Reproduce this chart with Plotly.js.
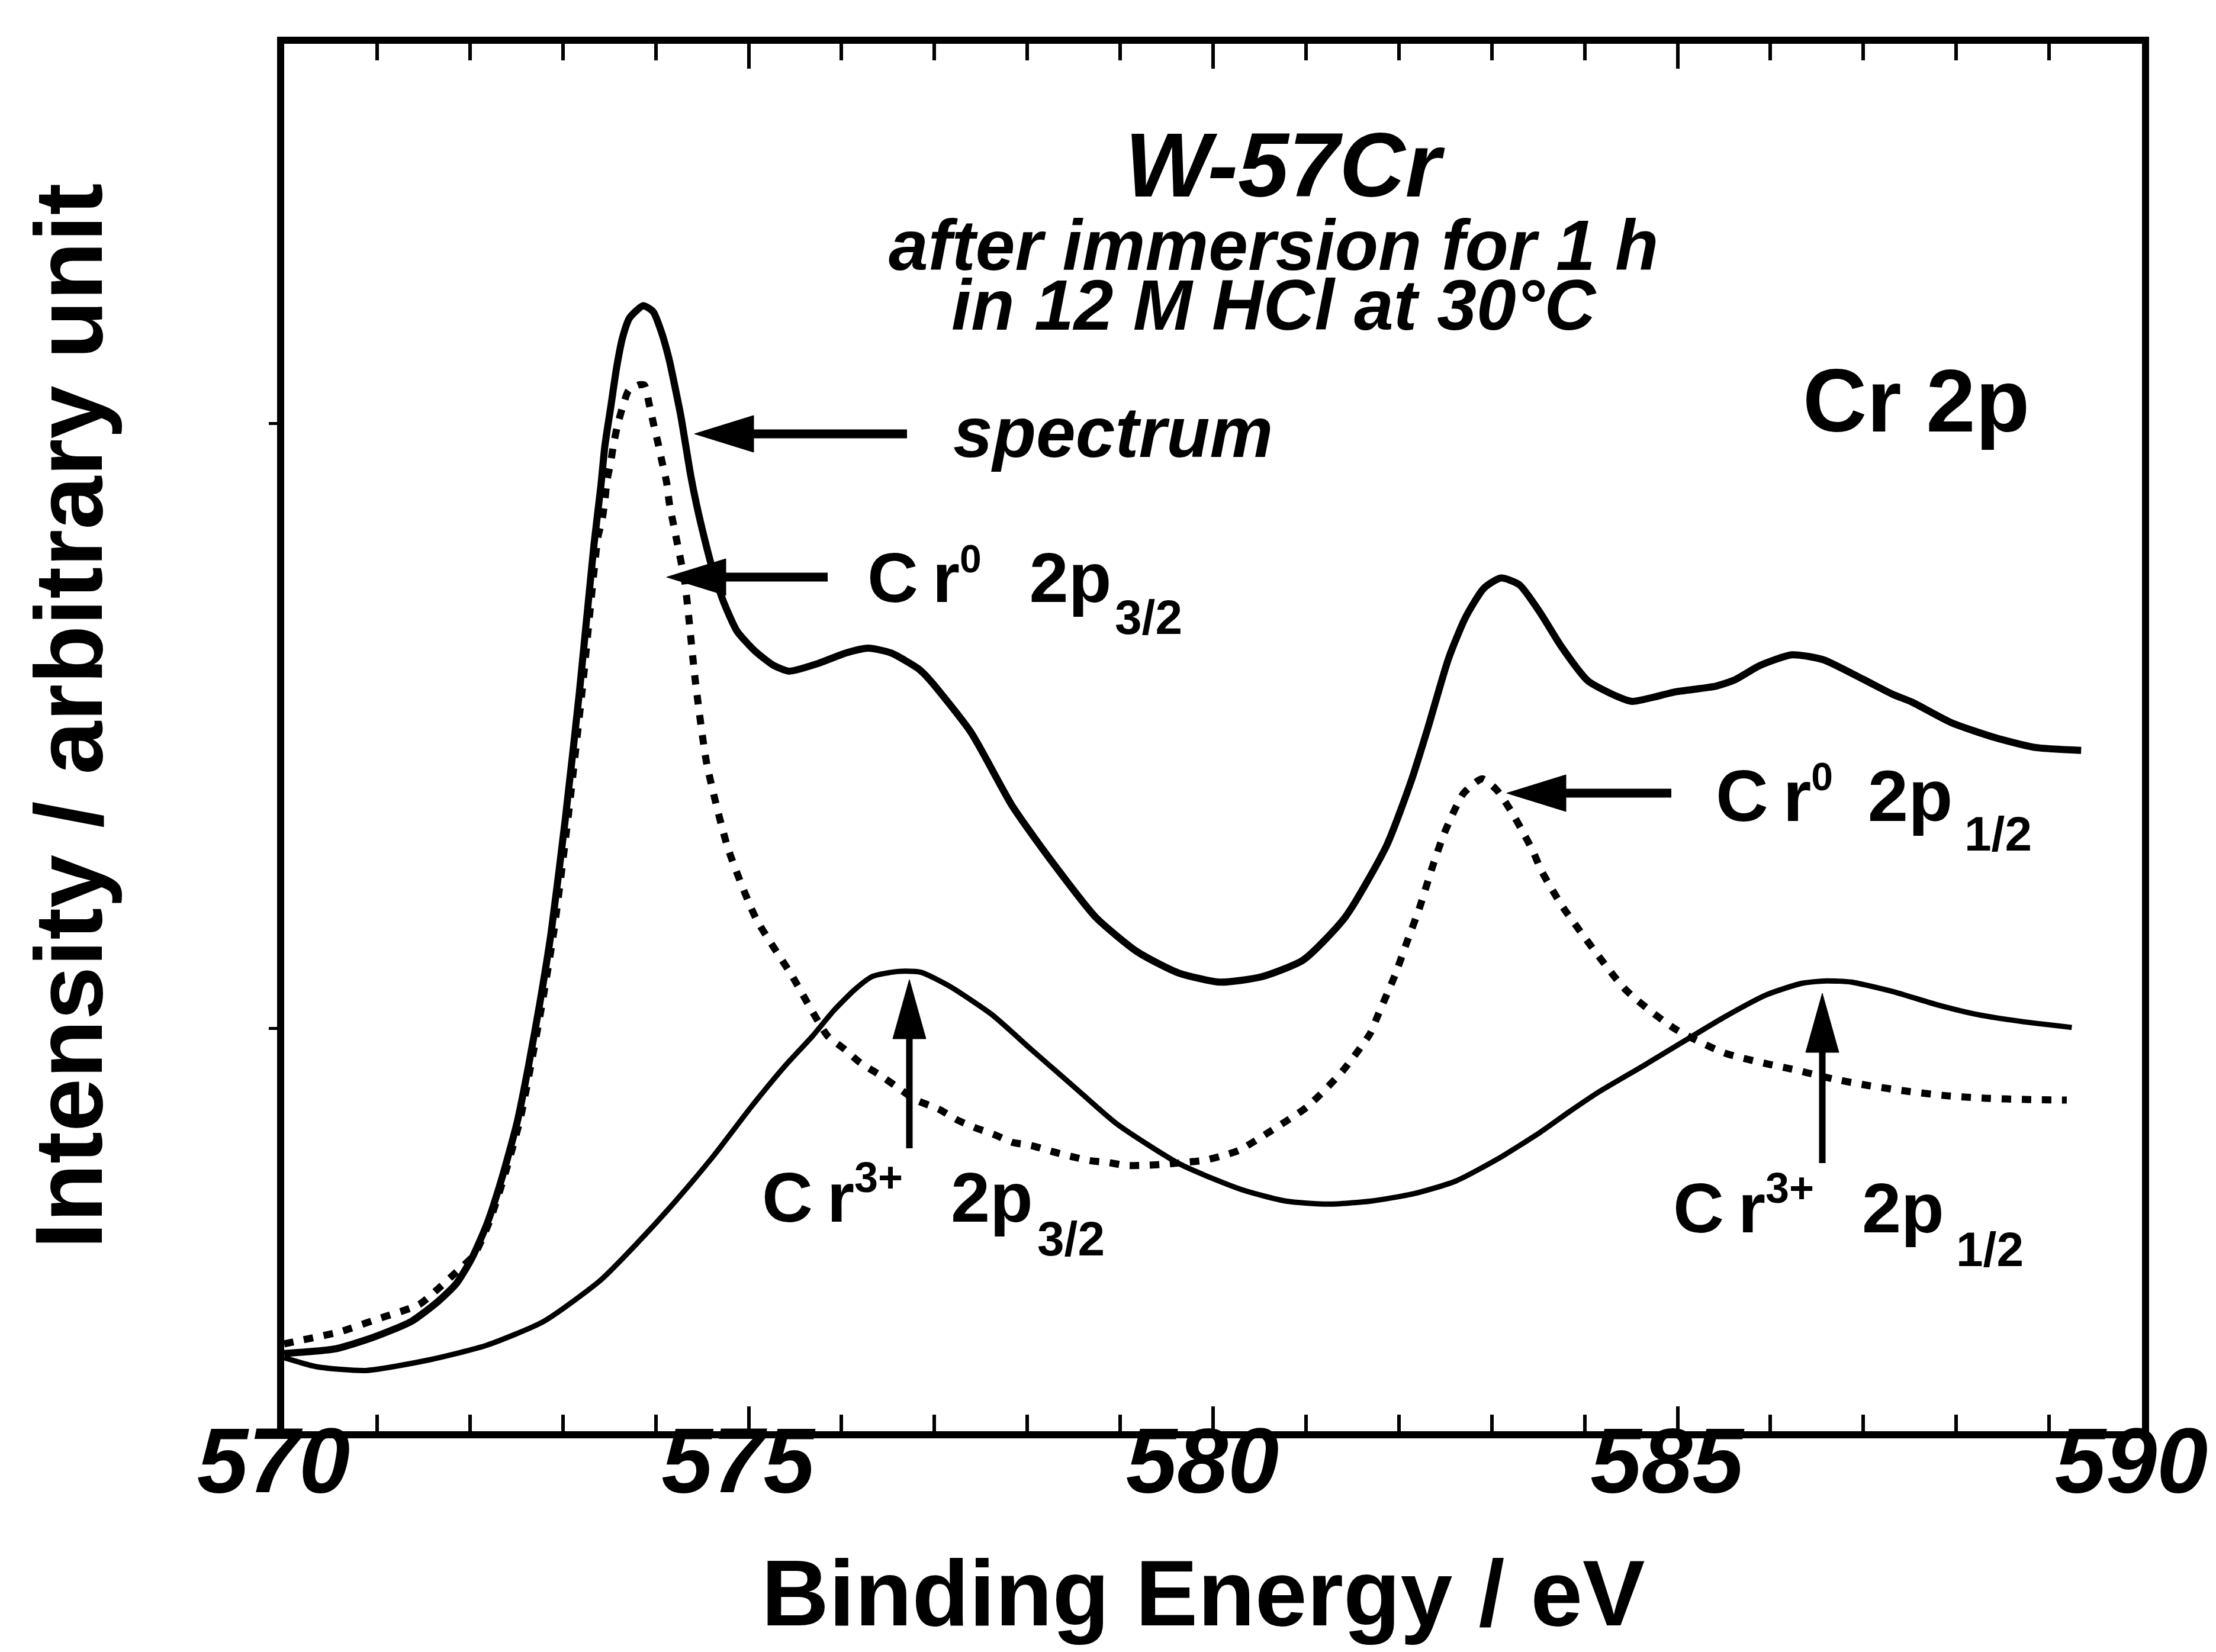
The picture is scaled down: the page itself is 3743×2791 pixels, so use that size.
<!DOCTYPE html>
<html>
<head>
<meta charset="utf-8">
<script src="https://cdn.plot.ly/plotly-3.0.1.min.js"></script>
<style>
  html, body { margin: 0; padding: 0; background: #ffffff; }
  #chart { width: 3743px; height: 2791px; }
</style>
</head>
<body>
<div id="chart"></div>
<script>
// ---------------- data ----------------
// Binding energy (eV) and intensity (arbitrary unit) of the measured spectrum
const spectrumEnergy = [570.000, 570.559, 570.963, 571.368, 571.656, 571.855, 572.022, 572.185, 572.342, 572.509,
  572.631, 572.752, 572.874, 573.026, 573.178, 573.335, 573.410, 573.452, 573.516, 573.580,
  573.644, 573.719, 573.866, 573.973, 574.058, 574.143, 574.207, 574.271, 574.324, 574.377,
  574.441, 574.525, 574.607, 574.729, 574.875, 575.070, 575.264, 575.436, 575.753, 576.046,
  576.288, 576.533, 576.827, 576.947, 577.393, 577.843, 578.290, 578.738, 579.185, 579.629,
  580.078, 580.527, 580.974, 581.421, 581.866, 582.136, 582.314, 582.535, 582.718, 582.915,
  583.098, 583.296, 583.524, 583.752, 584.035, 584.352, 584.510, 584.985, 585.408, 585.621,
  585.882, 586.232, 586.567, 586.993, 587.312, 587.522, 587.945, 588.420, 588.844, 589.345];
const spectrumIntensity = [0.463, 0.471, 0.490, 0.516, 0.549, 0.579, 0.621, 0.678, 0.752, 0.846,
  0.939, 1.042, 1.159, 1.346, 1.556, 1.800, 1.898, 1.963, 2.028, 2.094,
  2.143, 2.175, 2.195, 2.185, 2.153, 2.107, 2.061, 2.012, 1.963, 1.914,
  1.865, 1.810, 1.762, 1.706, 1.657, 1.624, 1.601, 1.591, 1.604, 1.621,
  1.629, 1.621, 1.595, 1.577, 1.490, 1.367, 1.271, 1.184, 1.127, 1.092,
  1.077, 1.086, 1.114, 1.184, 1.302, 1.411, 1.498, 1.612, 1.680, 1.728,
  1.745, 1.734, 1.687, 1.631, 1.575, 1.549, 1.541, 1.557, 1.566, 1.577,
  1.600, 1.618, 1.610, 1.578, 1.553, 1.540, 1.506, 1.481, 1.465, 1.460];

// Cr0 component (2p3/2 + 2p1/2), dotted
const cr0Energy = [570.000, 570.151, 570.600, 571.003, 571.453, 571.657, 571.855, 572.045, 572.212, 572.372,
  572.540, 572.661, 572.783, 572.905, 573.057, 573.209, 573.378, 573.420, 573.452, 573.474,
  573.516, 573.548, 573.591, 573.644, 573.708, 573.813, 573.877, 573.930, 573.977, 574.026,
  574.069, 574.117, 574.148, 574.218, 574.313, 574.426, 574.548, 574.776, 575.080, 575.461,
  575.850, 576.016, 576.198, 576.407, 576.612, 576.802, 577.047, 577.248, 577.443, 577.644,
  577.839, 578.039, 578.266, 578.467, 578.668, 578.862, 579.060, 579.261, 579.492, 579.693,
  579.894, 580.078, 580.279, 580.633, 581.014, 581.394, 581.691, 581.774, 581.957, 582.091,
  582.225, 582.360, 582.489, 582.696, 582.897, 583.057, 583.215, 583.346, 583.442, 583.532,
  583.638, 583.770, 584.437, 584.969, 585.502, 585.958, 586.263, 586.673, 587.054, 587.502,
  587.906, 588.316, 588.742, 589.190];
const cr0Intensity = [0.479, 0.484, 0.499, 0.520, 0.544, 0.570, 0.598, 0.626, 0.682, 0.757,
  0.850, 0.944, 1.047, 1.163, 1.350, 1.561, 1.813, 1.839, 1.872, 1.905,
  1.937, 1.968, 1.999, 2.028, 2.055, 2.064, 2.064, 2.032, 1.999, 1.967,
  1.936, 1.903, 1.867, 1.813, 1.738, 1.575, 1.439, 1.299, 1.182, 1.089,
  0.988, 0.968, 0.944, 0.924, 0.902, 0.882, 0.867, 0.849, 0.836, 0.825,
  0.812, 0.807, 0.797, 0.789, 0.782, 0.779, 0.774, 0.774, 0.776, 0.779,
  0.782, 0.789, 0.799, 0.832, 0.871, 0.930, 0.992, 1.022, 1.088, 1.145,
  1.201, 1.267, 1.323, 1.389, 1.413, 1.394, 1.358, 1.322, 1.294, 1.262,
  1.233, 1.200, 1.065, 1.000, 0.960, 0.942, 0.932, 0.917, 0.906, 0.896,
  0.889, 0.885, 0.883, 0.882];

// Cr3+ component (2p3/2 + 2p1/2), thin solid
const cr3Energy = [570.000, 570.355, 570.881, 571.575, 572.185, 572.792, 573.404, 573.810, 574.213, 574.624,
  575.029, 575.395, 575.689, 575.917, 576.145, 576.328, 576.526, 576.678, 576.860, 577.165,
  577.621, 578.047, 578.503, 578.960, 579.644, 580.306, 580.785, 581.242, 581.698, 582.155,
  582.611, 583.068, 583.524, 583.828, 584.148, 584.635, 585.045, 585.502, 585.958, 586.339,
  586.597, 586.871, 587.327, 587.784, 588.240, 588.697, 589.244];
const cr3Intensity = [0.456, 0.441, 0.435, 0.453, 0.477, 0.516, 0.584, 0.647, 0.715, 0.790,
  0.871, 0.939, 0.988, 1.030, 1.065, 1.086, 1.093, 1.095, 1.093, 1.070,
  1.023, 0.965, 0.904, 0.843, 0.776, 0.734, 0.715, 0.710, 0.715, 0.727,
  0.748, 0.785, 0.829, 0.862, 0.895, 0.939, 0.977, 1.019, 1.056, 1.075,
  1.079, 1.077, 1.061, 1.040, 1.023, 1.012, 1.002];

const xTickValues = [570, 575, 580, 585, 590];
const xTickLabels = ['570', '575', '580', '585', '590'];
const yTickValues = [1, 2];

// ---------------- styling ----------------
const FONT = 'Liberation Sans, Arial, Helvetica, sans-serif';
const BLACK = '#000000';

const traces = [
  { x: spectrumEnergy, y: spectrumIntensity, type: 'scatter', mode: 'lines', name: 'spectrum',
    line: { color: BLACK, width: 12, shape: 'spline', smoothing: 0.6 }, hoverinfo: 'skip' },
  { x: cr0Energy, y: cr0Intensity, type: 'scatter', mode: 'lines', name: 'Cr0',
    line: { color: BLACK, width: 12, dash: '16px,18px', shape: 'spline', smoothing: 0.6 }, hoverinfo: 'skip' },
  { x: cr3Energy, y: cr3Intensity, type: 'scatter', mode: 'lines', name: 'Cr3+',
    line: { color: BLACK, width: 9, shape: 'spline', smoothing: 0.6 }, hoverinfo: 'skip' }
];

function txt(text, x, y, size, opts) {
  opts = opts || {};
  return Object.assign({
    text: text, x: x, y: y, xref: 'paper', yref: 'paper', showarrow: false,
    xanchor: 'center', yanchor: 'bottom', borderpad: 0,
    font: { family: FONT, size: size, color: BLACK, weight: 'bold', style: opts.italic ? 'italic' : 'normal' }
  }, opts.extra || {});
}

const SUP0 = '<sup><span style="font-size:66px">0</span></sup>';
const SUP3 = '<sup><span style="font-size:72px">3+</span></sup>';
const GAP_WIDE = ' \u2009\u2009';
const GAP = ' \u2009';

const annotations = [
  txt('W-57Cr', 0.5386, 0.8756, 154, { italic: true }),
  txt('after immersion for 1 h', 0.5325, 0.8258, 120, { italic: true }),
  txt('in 12 M HCl at 30°C', 0.5331, 0.7827, 120, { italic: true }),
  txt('Cr 2p', 0.8783, 0.7066, 150),
  txt('spectrum', 0.4461, 0.6910, 120, { italic: true }),

  txt('C\u2009r' + SUP0 + GAP_WIDE + '2p', 0.3136, 0.5866, 119, { extra: { xanchor: 'left' } }),
  txt('3/2', 0.4468, 0.5668, 82, { extra: { xanchor: 'left' } }),

  txt('C\u2009r' + SUP0 + GAP + '2p', 0.7702, 0.4283, 123, { extra: { xanchor: 'left' } }),
  txt('1/2', 0.9041, 0.4107, 82, { extra: { xanchor: 'left' } }),

  txt('C\u2009r' + SUP3 + GAP_WIDE + '2p', 0.2569, 0.1399, 119, { extra: { xanchor: 'left' } }),
  txt('3/2', 0.4050, 0.1190, 82, { extra: { xanchor: 'left' } }),

  txt('C\u2009r' + SUP3 + GAP_WIDE + '2p', 0.7473, 0.1323, 119, { extra: { xanchor: 'left' } }),
  txt('1/2', 0.8996, 0.1113, 82, { extra: { xanchor: 'left' } }),

  // axis titles
  txt('Binding Energy / eV', 0.4946, -0.1545, 158),
  txt('Intensity / arbitrary unit', -0.1160, 0.5154, 162, { extra: { textangle: -90, yanchor: 'middle' } })
];

// arrows: shaft lines + triangular heads (head drawn in pixel units at the tip)
function hArrow(xTail, xBase, xTip, y, width) {
  return [
    { type: 'line', xref: 'paper', yref: 'paper', x0: xTail, x1: xBase, y0: y, y1: y,
      line: { color: BLACK, width: width } },
    { type: 'path', xref: 'paper', yref: 'paper', xsizemode: 'pixel', ysizemode: 'pixel',
      xanchor: xTip, yanchor: y, path: 'M0,0 L100,31 L100,-31 Z',
      fillcolor: BLACK, line: { color: BLACK, width: 1 } }
  ];
}
function vArrow(x, yTail, yBase, yTip, width) {
  return [
    { type: 'line', xref: 'paper', yref: 'paper', x0: x, x1: x, y0: yTail, y1: yBase,
      line: { color: BLACK, width: width } },
    { type: 'path', xref: 'paper', yref: 'paper', xsizemode: 'pixel', ysizemode: 'pixel',
      xanchor: x, yanchor: yTip, path: 'M0,0 L28,-100 L-28,-100 Z',
      fillcolor: BLACK, line: { color: BLACK, width: 1 } }
  ];
}

const shapes = [].concat(
  hArrow(0.33525, 0.2510, 0.22084, 0.71886, 15),
  hArrow(0.29254, 0.2370, 0.20586, 0.61561, 15),
  hArrow(0.74665, 0.6895, 0.65806, 0.45990, 15),
  vArrow(0.33652, 0.20392, 0.2840, 0.32551, 11),
  vArrow(0.82792, 0.19326, 0.2742, 0.31570, 11)
);

const layout = {
  width: 3743, height: 2791,
  margin: { l: 480, r: 125, t: 74, b: 373, pad: 0 },
  paper_bgcolor: '#ffffff', plot_bgcolor: '#ffffff',
  showlegend: false,
  font: { family: FONT, color: BLACK },
  xaxis: {
    range: [570, 590], tickmode: 'array', tickvals: xTickValues, ticktext: xTickLabels,
    ticks: 'inside', ticklen: 42, tickwidth: 6, tickcolor: BLACK,
    minor: { dtick: 1, tick0: 570, ticks: 'inside', ticklen: 28, tickwidth: 6, tickcolor: BLACK, showgrid: false },
    showline: true, linewidth: 12, linecolor: BLACK, mirror: 'allticks',
    showgrid: false, zeroline: false,
    tickfont: { family: FONT, size: 155, color: BLACK, weight: 'bold', style: 'italic' },
    ticklabelstandoff: -95, ticklabelshift: -18
  },
  yaxis: {
    range: [0.3346, 2.628], tickmode: 'array', tickvals: yTickValues, showticklabels: false,
    ticks: 'outside', ticklen: 14, tickwidth: 5, tickcolor: BLACK,
    showline: true, linewidth: 12, linecolor: BLACK, mirror: true,
    showgrid: false, zeroline: false
  },
  annotations: annotations,
  shapes: shapes
};

Plotly.newPlot('chart', traces, layout, { staticPlot: true, displayModeBar: false });
</script>
</body>
</html>
